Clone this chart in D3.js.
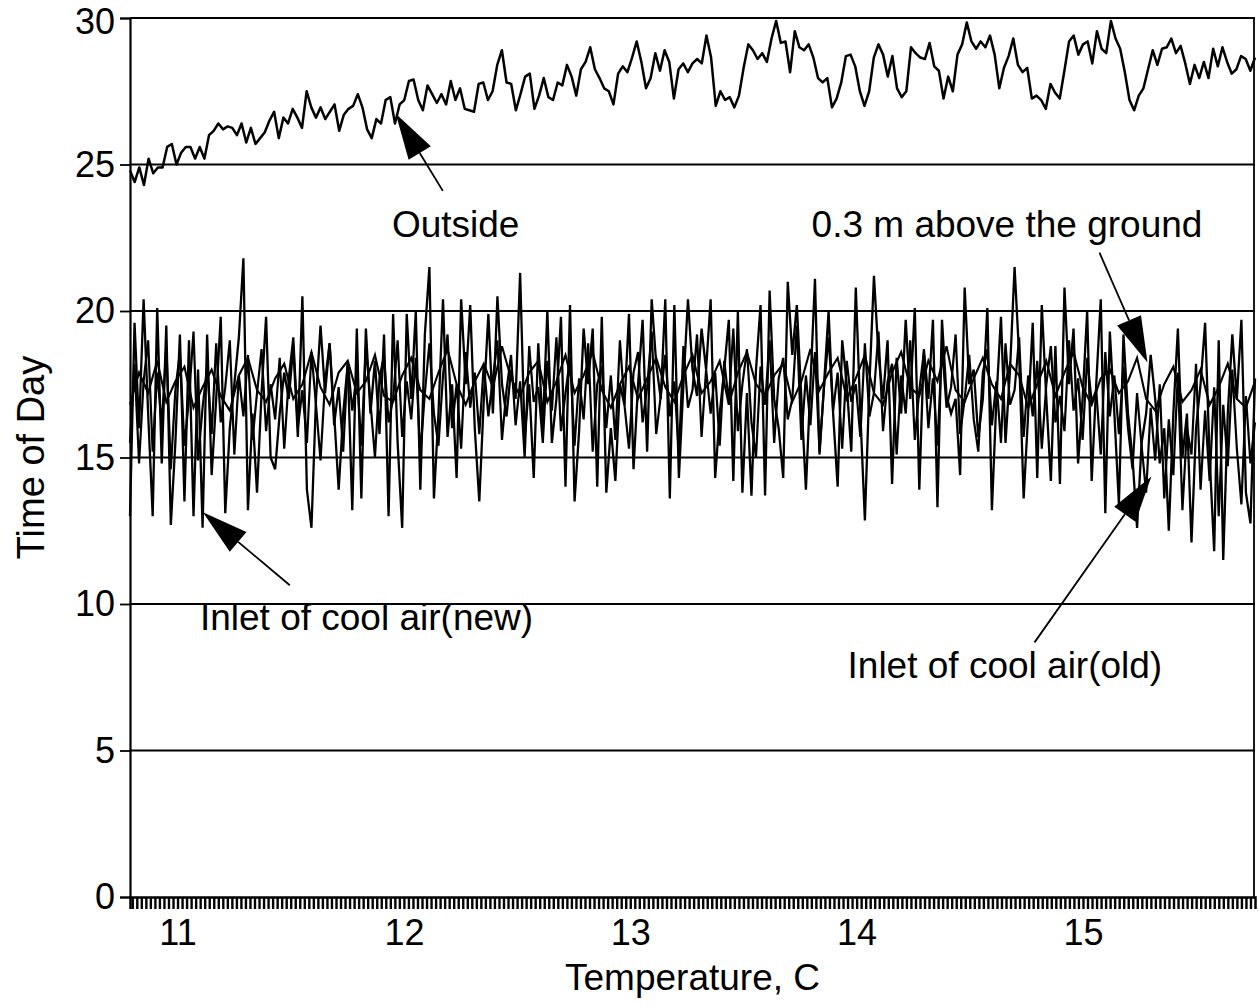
<!DOCTYPE html>
<html>
<head>
<meta charset="utf-8">
<script src="https://cdn.jsdelivr.net/npm/d3@7"></script>
<style>
  body { margin: 0; background: #fff; }
  text { font-family: "Liberation Sans", Arial, Helvetica, sans-serif; fill: #000; }
</style>
</head>
<body>
<div id="chart"></div>
<script>
// x runs from xStart to xEnd, samples evenly spaced
var xStart = 10.79;
var xEnd = 15.76;

var outside = [
  24.8, 24.4, 24.9, 24.3, 25.2, 24.7, 24.9, 24.9, 25.6, 25.7, 25.0, 25.4, 25.6, 25.6, 25.2, 25.6, 25.2, 26.0, 26.15, 26.4,
  26.2, 26.3, 26.25, 26.0, 26.4, 25.75, 26.25, 25.7, 25.9, 26.1, 26.5, 26.8, 25.9, 26.6, 26.4, 26.9, 26.6, 26.25, 27.5, 26.95,
  26.6, 26.95, 26.55, 26.8, 27.05, 26.15, 26.7, 26.9, 27.0, 27.4, 26.95, 26.2, 25.9, 26.55, 26.4, 27.2, 27.3, 26.4, 27.05, 27.2,
  27.85,
  27.9, 27.2, 26.85, 27.7, 27.4, 27.1, 27.4, 27.05, 27.85, 27.2, 27.6, 26.9, 26.85, 26.8, 27.75, 27.8, 27.2, 27.5, 28.4, 28.9,
  27.8, 27.75, 26.85, 27.4, 28.0, 28.1, 26.9, 27.35, 27.95, 27.3, 27.2, 27.8, 27.7, 28.4, 28.0, 27.35, 28.25, 28.5, 29.0, 28.25,
  27.95, 27.6, 27.5, 27.05, 28.1, 28.35, 28.15, 28.65, 29.2, 28.5, 27.6, 27.95, 28.8, 28.2, 28.9, 28.5, 27.25, 28.25, 28.45, 28.15,
  28.45, 28.6, 28.45, 29.4, 28.65, 27.0, 27.5, 27.2, 27.3, 26.95, 27.35, 28.3, 29.1, 28.9, 28.6, 28.8, 28.5, 29.3, 29.9, 29.15,
  29.2, 28.15, 29.55, 29.0, 28.9, 29.1, 28.65, 27.95, 27.8, 27.95, 26.95, 27.25, 27.8, 28.7, 28.75, 28.35, 27.5, 27.0, 27.5, 28.65,
  29.1, 28.75, 28.0, 28.7, 27.6, 27.3, 27.5, 29.0, 28.8, 28.65, 28.6, 29.15, 28.35, 28.2, 27.25, 28.0, 27.5, 28.75, 29.1, 29.85,
  29.2, 28.95, 29.2, 29.0, 29.4, 28.75, 27.6, 28.3, 28.7, 29.3, 28.4, 28.15, 28.3, 27.25, 27.35, 27.2, 26.9, 27.75, 27.45, 27.25,
  28.2, 29.2, 29.4, 28.75, 29.1, 29.2, 28.45, 29.55, 28.95, 28.8, 29.9, 29.3, 28.95, 28.15, 27.2, 26.85, 27.35, 27.6, 28.25, 28.9,
  28.4, 28.95, 29.0, 29.3, 28.8, 29.05, 28.45, 27.75, 28.4, 27.95, 28.5, 27.95, 28.95, 28.35, 29.0, 28.5, 28.1, 28.25, 28.7, 28.6,
  28.2, 28.65
];

var inletNew = [
  13.0, 19.6, 16.0, 20.4, 16.5, 13.0, 20.1, 14.8, 19.5, 12.7,
  15.5, 19.2, 13.5, 19.0, 13.0, 18.0, 12.6, 19.2, 14.4, 17.0,
  19.8, 13.1, 16.0, 17.5, 19.1, 21.8, 13.2, 16.5, 13.8, 17.2,
  19.8, 15.0, 14.6, 16.5, 17.9, 17.0, 18.8, 15.7, 20.5, 13.9,
  12.6, 17.0, 19.5, 17.2, 18.9, 16.5, 13.9, 16.5, 18.2, 13.2,
  19.4, 13.6, 19.4, 16.5, 18.3, 15.8, 19.2, 13.0, 19.9, 15.5,
  12.6, 19.9, 17.0, 20.0, 13.9, 19.2, 21.5, 13.6, 16.5, 20.4,
  15.7, 17.5, 14.3, 20.4, 17.5, 20.2, 16.0, 13.5, 17.0, 19.9,
  16.5, 20.5, 17.5, 16.4, 18.0, 17.0, 21.3, 15.7, 17.5, 14.3,
  18.9, 16.0, 20.0, 15.5, 17.0, 19.8, 14.0, 20.2, 13.5, 15.9,
  19.4, 17.5, 19.4, 14.0, 19.8, 13.8, 16.0, 14.2, 17.5, 16.8,
  19.9, 14.6, 17.5, 19.7, 15.2, 20.4, 18.2, 17.0, 20.4, 13.6,
  20.2, 14.3, 17.5, 20.4, 18.0, 17.1, 19.4, 18.0, 20.4, 14.3,
  16.5, 18.0, 19.7, 14.2, 20.0, 13.8, 17.2, 13.7, 18.0, 20.2,
  13.7, 20.7, 17.0, 16.0, 14.3, 21.0, 18.5, 20.2, 17.0, 13.9,
  17.5, 21.1, 15.1, 17.5, 20.0, 16.5, 14.0, 19.0, 17.5, 15.2,
  20.8, 16.5, 12.85, 17.5, 21.2, 18.5, 17.0, 19.0, 14.1, 18.4,
  16.5, 19.7, 17.0, 20.1, 13.9, 18.7, 17.0, 19.7, 13.3, 19.7,
  17.1, 16.5, 17.0, 14.4, 20.8, 17.5, 18.0, 15.7, 17.0, 20.1,
  13.2, 17.0, 19.8, 15.5, 18.0, 21.5, 18.5, 13.6, 16.5, 19.6,
  14.3, 20.2, 17.0, 14.2, 18.8, 14.1, 20.8, 17.5, 19.4, 14.8,
  17.0, 20.0, 14.2, 17.5, 20.4, 13.1, 19.3, 16.5, 13.4, 19.2,
  16.5, 15.0, 12.6, 15.5, 16.5, 18.5, 17.0, 14.8, 16.0, 12.5,
  16.5, 19.4, 15.0, 16.5, 12.1, 16.0, 17.5, 19.6, 15.0, 11.8,
  19.0, 11.5, 16.5, 19.2, 17.0, 19.7, 13.8, 12.75, 17.7
];

var inletOld = [
  15.5, 18.2, 14.8, 17.6, 19.0, 15.2, 17.9, 16.1, 18.8, 14.6,
  17.3, 18.6, 15.4, 17.0, 19.3, 14.9, 16.7, 18.1, 15.8, 18.9,
  16.2, 17.4, 19.0, 15.1, 17.8, 16.4, 18.5, 15.6, 17.2, 18.7,
  15.9, 17.5, 16.3, 18.4, 15.3, 17.7, 19.1, 16.0, 17.3, 15.5,
  18.6, 16.8, 14.9, 17.6, 18.9, 16.1, 17.4, 15.2, 18.3, 16.6,
  17.9, 15.4, 18.8, 16.9, 15.0, 17.7, 18.5, 16.2, 17.0, 19.0,
  15.7, 17.6, 16.3, 18.4, 15.1, 17.2, 18.9, 16.5, 15.4, 17.8,
  19.2, 16.0, 17.5, 15.3, 18.6, 16.7, 17.9, 15.8, 18.2, 16.4,
  17.7, 19.0, 15.6, 17.3, 18.5, 16.1, 17.6, 15.0, 18.8, 16.9,
  17.4, 15.5, 18.3, 16.6, 19.1, 15.9, 17.2, 18.4, 15.4, 17.7,
  16.3, 18.9, 15.2, 17.5, 18.1, 16.0, 17.8, 15.6, 19.0, 16.8,
  15.3, 17.9, 18.6, 16.2, 17.4, 19.3, 15.8, 17.1, 18.5, 16.4,
  17.6, 15.1, 18.8, 16.7, 17.3, 19.2, 15.7, 18.0, 16.5, 17.9,
  15.4, 18.3, 16.9, 19.4, 15.9, 17.5, 18.7, 16.2, 15.0, 18.1,
  16.8, 19.0, 15.5, 17.7, 18.4, 16.3, 17.0, 19.5, 15.6, 17.8,
  16.1, 18.6, 15.2, 17.4, 19.1, 16.6, 17.9, 15.3, 18.3, 16.9,
  17.5, 15.7, 18.9, 16.4, 17.2, 19.3, 15.9, 17.6, 18.2, 15.1,
  17.8, 16.5, 19.0, 15.6, 17.3, 18.6, 16.0, 17.7, 15.4, 18.8,
  16.7, 17.4, 19.2, 15.8, 17.0, 18.5, 16.3, 15.2, 17.9, 18.7,
  16.1, 17.6, 15.5, 18.9, 16.8, 17.3, 19.1, 15.7, 17.8, 16.4,
  18.3, 15.3, 17.5, 18.8, 16.2, 17.1, 15.9, 19.0, 16.6, 17.7,
  15.6, 18.4, 16.9, 17.3, 15.1, 18.6, 16.4, 17.8, 15.8, 18.1,
  16.0, 14.6, 17.2, 15.4, 13.8, 16.7, 14.9, 17.5, 13.6, 16.3,
  14.4, 17.9, 13.2, 16.0, 15.1, 18.2, 13.9, 16.6, 14.2, 17.4,
  13.0, 16.8, 14.7, 18.0, 15.3, 13.4, 17.1, 14.8, 16.2
];

var aboveGround = [
  16.8, 17.9, 17.2, 18.3, 16.9, 17.6, 18.1, 16.7, 17.4, 18.0,
  17.1, 16.6, 17.8, 18.4, 17.3, 16.9, 17.7, 18.2, 17.0, 17.5,
  18.6, 17.4, 16.8, 17.9, 18.3, 17.2, 17.6, 18.5, 17.1, 16.9,
  17.8, 18.4, 17.3, 17.0, 17.9, 18.7, 17.5, 16.8, 17.6, 18.2,
  17.4, 18.8, 17.7, 17.1, 17.9, 18.3, 16.9, 17.6, 18.5, 17.2,
  17.8, 18.6, 17.3, 16.7, 17.5, 18.1, 17.0, 17.7, 18.4, 17.4,
  16.9, 17.8, 18.5, 17.2, 17.6, 18.3, 16.8, 17.9, 18.6, 17.5,
  17.1, 17.8, 18.2, 16.9, 17.6, 18.7, 17.3, 17.9, 18.4, 17.0,
  17.7, 18.5, 17.2, 16.8, 17.9, 18.6, 17.4, 17.1, 18.3, 17.6,
  18.8, 17.3, 16.9, 17.7, 18.4, 17.5, 17.0, 18.2, 17.8, 16.7,
  17.5, 18.3, 17.1, 17.9, 18.6, 17.4, 16.8, 17.7, 18.0, 17.2,
  17.6, 18.4, 17.0, 16.6, 17.5, 18.1, 16.9, 17.3, 18.0, 16.8,
  17.4, 18.2, 17.0, 16.7, 17.6
];

var xTickLabels = [11, 12, 13, 14, 15];
var yTickLabels = [0, 5, 10, 15, 20, 25, 30];

// annotation text anchor and arrow (tail -> tip), in chart units
var notes = [
  { text: "Outside", tx: 11.947, ty: 22.54, x0: 12.172, y0: 24.10, x1: 11.964, y1: 26.73 },
  { text: "0.3 m above the ground", tx: 13.801, ty: 22.54, x0: 15.073, y0: 21.99, x1: 15.285, y1: 18.24 },
  { text: "Inlet of cool air(new)", tx: 11.099, ty: 9.10, x0: 11.496, y0: 10.64, x1: 11.112, y1: 13.13 },
  { text: "Inlet of cool air(old)", tx: 13.960, ty: 7.47, x0: 14.786, y0: 8.69, x1: 15.302, y1: 14.35 }
];

var width = 1258;
var height = 1006;
var margin = { top: 18, right: 3, bottom: 109, left: 130 };

var svg = d3.select("#chart").append("svg")
  .attr("width", width)
  .attr("height", height);

var xScale = d3.scaleLinear()
  .domain([xStart, xEnd])
  .range([margin.left, width - margin.right]);
var yScale = d3.scaleLinear()
  .domain([0, 30])
  .range([height - margin.bottom, margin.top]);

function seriesPoints(vals) {
  var step = (xEnd - xStart) / (vals.length - 1);
  return vals.map(function(v, i) { return [xStart + i * step, v]; });
}

// horizontal grid lines
svg.append("g")
  .selectAll("line")
  .data(yTickLabels.filter(function(d) { return d > 0; }))
  .enter().append("line")
  .attr("x1", margin.left)
  .attr("x2", width - margin.right)
  .attr("y1", function(d) { return yScale(d); })
  .attr("y2", function(d) { return yScale(d); })
  .attr("stroke", "#000")
  .attr("stroke-width", 1.9);

// right border
svg.append("line")
  .attr("x1", width - margin.right - 1).attr("x2", width - margin.right - 1)
  .attr("y1", yScale(30)).attr("y2", yScale(0))
  .attr("stroke", "#000").attr("stroke-width", 1.8);

var line = d3.line()
  .x(function(d) { return xScale(d[0]); })
  .y(function(d) { return yScale(d[1]); });

svg.append("path")
  .datum(seriesPoints(aboveGround))
  .attr("d", line)
  .attr("fill", "none").attr("stroke", "#000").attr("stroke-width", 2.1);
svg.append("path")
  .datum(seriesPoints(inletOld))
  .attr("d", line)
  .attr("fill", "none").attr("stroke", "#000").attr("stroke-width", 2.2);
svg.append("path")
  .datum(seriesPoints(inletNew))
  .attr("d", line)
  .attr("fill", "none").attr("stroke", "#000").attr("stroke-width", 2.3);
svg.append("path")
  .datum(seriesPoints(outside))
  .attr("d", line)
  .attr("fill", "none").attr("stroke", "#000").attr("stroke-width", 2.5)
  .attr("stroke-linejoin", "round");

// x axis: dense minor ticks plus labels
var minorTicks = d3.range(10.80, xEnd, 0.02);
svg.append("g")
  .attr("transform", "translate(0," + yScale(0) + ")")
  .call(d3.axisBottom(xScale).tickValues(minorTicks).tickSize(12).tickFormat(""))
  .call(function(g) {
    g.select(".domain").attr("stroke-width", 2.5);
    g.selectAll(".tick line").attr("stroke-width", 2.4);
  });
svg.append("g")
  .attr("transform", "translate(0," + yScale(0) + ")")
  .call(d3.axisBottom(xScale).tickValues(xTickLabels).tickSize(0).tickPadding(22).tickFormat(d3.format("d")))
  .call(function(g) {
    g.select(".domain").remove();
    g.selectAll("text").attr("font-size", 36);
  });

// y axis
svg.append("g")
  .attr("transform", "translate(" + margin.left + ",0)")
  .call(d3.axisLeft(yScale).tickValues(yTickLabels).tickSize(10).tickPadding(5).tickFormat(d3.format("d")))
  .call(function(g) {
    g.select(".domain").attr("stroke-width", 2.2);
    g.selectAll(".tick line").attr("stroke-width", 1.8);
    g.selectAll("text").attr("font-size", 36)
      .attr("dy", function(d) { return d === 30 ? "0.42em" : "0.32em"; });
  });

// axis titles
svg.append("text")
  .attr("x", (margin.left + width - margin.right) / 2)
  .attr("y", 990)
  .attr("text-anchor", "middle")
  .attr("font-size", 37)
  .text("Temperature, C");
svg.append("text")
  .attr("transform", "translate(44," + ((margin.top + height - margin.bottom) / 2) + ")rotate(-90)")
  .attr("text-anchor", "middle")
  .attr("font-size", 38)
  .text("Time of Day");

// annotations
var ann = svg.append("g");
notes.forEach(function(n) {
  ann.append("text")
    .attr("x", xScale(n.tx))
    .attr("y", yScale(n.ty))
    .attr("font-size", 37)
    .text(n.text);
  var ax = xScale(n.x0), ay = yScale(n.y0), bx = xScale(n.x1), by = yScale(n.y1);
  var dx = bx - ax, dy = by - ay, len = Math.sqrt(dx * dx + dy * dy);
  var ux = dx / len, uy = dy / len;
  var headLen = 46, headHalf = 13;
  var baseX = bx - ux * headLen, baseY = by - uy * headLen;
  ann.append("line")
    .attr("x1", ax).attr("y1", ay).attr("x2", baseX).attr("y2", baseY)
    .attr("stroke", "#000").attr("stroke-width", 1.8);
  ann.append("path")
    .attr("d", "M" + bx + "," + by +
      "L" + (baseX - uy * headHalf) + "," + (baseY + ux * headHalf) +
      "L" + (baseX + uy * headHalf) + "," + (baseY - ux * headHalf) + "Z")
    .attr("fill", "#000");
});
</script>
</body>
</html>
